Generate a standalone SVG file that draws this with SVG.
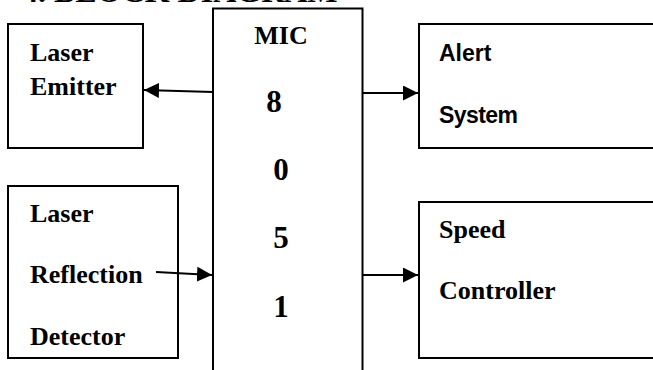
<svg xmlns="http://www.w3.org/2000/svg" width="653" height="370" viewBox="0 0 653 370">
<style>
.box{fill:none;stroke:#000;stroke-width:2}
.t{font-family:"Liberation Serif","Times New Roman",serif;font-weight:bold;font-size:26px;fill:#000}
.d{font-family:"Liberation Serif","Times New Roman",serif;font-weight:bold;font-size:31px;fill:#000}
.s{font-family:"Liberation Sans",Arial,sans-serif;font-weight:bold;font-size:23px;fill:#000}
.c{stroke:#000;stroke-width:2;fill:none}
</style>
<defs>
<marker id="ah" viewBox="0 0 10 10" refX="10" refY="5" markerWidth="7.5" markerHeight="7.5" orient="auto" markerUnits="strokeWidth">
<path d="M0,0 L10,5 L0,10 z" fill="#000"/>
</marker>
</defs>
<rect width="653" height="370" fill="#fff"/>
<text x="22" y="2" font-family="Liberation Serif,serif" font-weight="bold" font-size="32">4. BLOCK DIAGRAM</text>
<g id="laser-emitter">
<rect class="box" x="8" y="24" width="135" height="124"/>
<text class="t" x="30" y="61">Laser</text>
<text class="t" x="30" y="95">Emitter</text>
</g>
<g id="mic8051">
<path class="box" d="M213,370 V8.5 H362.5 V370"/>
<text class="t" x="281" y="44" text-anchor="middle" font-size="27">MIC</text>
<text class="d" x="274" y="112" text-anchor="middle">8</text>
<text class="d" x="281" y="180" text-anchor="middle">0</text>
<text class="d" x="281" y="248" text-anchor="middle">5</text>
<text class="d" x="281" y="317" text-anchor="middle">1</text>
</g>
<g id="alert-system">
<path class="box" d="M660,24 H419 V148 H660"/>
<text class="s" x="439" y="61">Alert</text>
<text class="s" x="439" y="123" textLength="79">System</text>
</g>
<g id="laser-reflection-detector">
<rect class="box" x="8" y="186" width="170" height="172"/>
<text class="t" x="30" y="222">Laser</text>
<text class="t" x="30" y="283">Reflection</text>
<text class="t" x="30" y="345">Detector</text>
</g>
<g id="speed-controller">
<path class="box" d="M660,202 H419 V358 H660"/>
<text class="t" x="439" y="238">Speed</text>
<text class="t" x="439" y="299">Controller</text>
</g>
<g id="connectors">
<line class="c" x1="213" y1="92" x2="144" y2="90" marker-end="url(#ah)"/>
<line class="c" x1="362" y1="93" x2="418" y2="93" marker-end="url(#ah)"/>
<line class="c" x1="156" y1="272" x2="212" y2="275" marker-end="url(#ah)"/>
<line class="c" x1="362" y1="275" x2="418" y2="275" marker-end="url(#ah)"/>
</g>
</svg>
